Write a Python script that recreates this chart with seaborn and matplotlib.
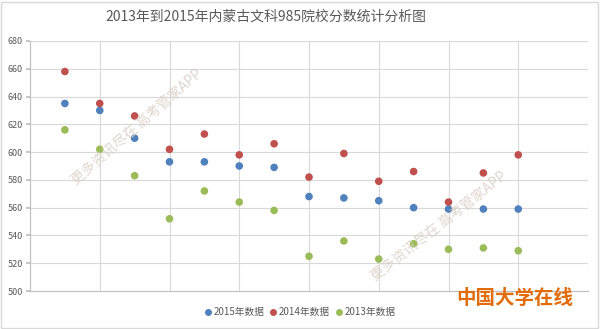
import matplotlib
matplotlib.use("Agg")
import matplotlib.pyplot as plt
import seaborn as sns
import pandas as pd
from matplotlib.patches import Rectangle
from matplotlib.lines import Line2D

# ---- data ----
school_index = list(range(1, 15))
scores_2015 = [635, 630, 610, 593, 593, 590, 589, 568, 567, 565, 560, 559, 559, 559]
scores_2014 = [658, 635, 626, 602, 613, 598, 606, 582, 599, 579, 586, 564, 585, 598]
scores_2013 = [616, 602, 583, 552, 572, 564, 558, 525, 536, 523, 534, 530, 531, 529]
series_names = ["2015年数据", "2014年数据", "2013年数据"]
colors = ["#4F81BD", "#C0504D", "#9BBB59"]
title = "2013年到2015年内蒙古文科985院校分数统计分析图"
y_ticks = [500, 520, 540, 560, 580, 600, 620, 640, 660, 680]

rows = []
for name, vals in zip(series_names, [scores_2015, scores_2014, scores_2013]):
    for x, v in zip(school_index, vals):
        rows.append({"idx": x, "score": v, "series": name})
df = pd.DataFrame(rows)

sns.set_theme(style="white")
plt.rcParams['font.family'] = ['Noto Sans CJK SC', 'DejaVu Sans']

fig = plt.figure(figsize=(6.0, 3.29), dpi=100)
ax = fig.add_axes([0.05, 0.1155, 0.93, 0.76])

sns.scatterplot(data=df, x="idx", y="score", hue="series", hue_order=series_names,
                palette=colors, s=30, edgecolor="none", ax=ax, legend=False, zorder=3)

ax.set_xlim(0, 16)
ax.set_ylim(500, 680)
ax.set_xticks(range(0, 17, 2))
ax.set_xticklabels([])
ax.set_yticks(y_ticks)
ax.set_yticklabels([str(t) for t in y_ticks], fontsize=6.5, color="#595959")
ax.grid(True, color="#D9D9D9", linewidth=0.8)
ax.set_axisbelow(True)
ax.set_xlabel("")
ax.set_ylabel("")
for s in ["top", "right"]:
    ax.spines[s].set_visible(False)
for s in ["left", "bottom"]:
    ax.spines[s].set_color("#BFBFBF")
    ax.spines[s].set_linewidth(0.8)
ax.tick_params(axis="y", length=3, color="#BFBFBF", pad=2, left=True)
ax.tick_params(axis="x", length=0, bottom=False)

fig.text(0.444, 0.948, title, ha="center", va="center", fontsize=10, color="#595959")

# legend
handles = [Line2D([], [], marker="o", linestyle="", markersize=5, markerfacecolor=c,
                  markeredgecolor="none") for c in colors]
fig.legend(handles, series_names, loc="center", bbox_to_anchor=(0.499, 0.051), ncol=3,
           frameon=False, fontsize=7, handletextpad=0.1, columnspacing=0.4,
           handlelength=1.0, labelcolor="#595959")

# brand text
fig.text(0.858, 0.094, "中国大学在线", ha="center", va="center", fontsize=14,
         fontweight="bold", color="#E26B0A")

# watermarks
wm = "更多资讯尽在 高考管家APP"
fig.text(0.228, 0.614, wm, ha="center", va="center", rotation=41, fontsize=10,
         color="#D8CCC0", alpha=0.8)
fig.text(0.732, 0.313, wm, ha="center", va="center", rotation=38, fontsize=10,
         color="#D8CCC0", alpha=0.8)

# outer frame
fig.patches.append(Rectangle((0.002, 0.004), 0.994, 0.99, transform=fig.transFigure,
                             fill=False, edgecolor="#D9D9D9", linewidth=1))

fig.savefig("out.png", dpi=100)
